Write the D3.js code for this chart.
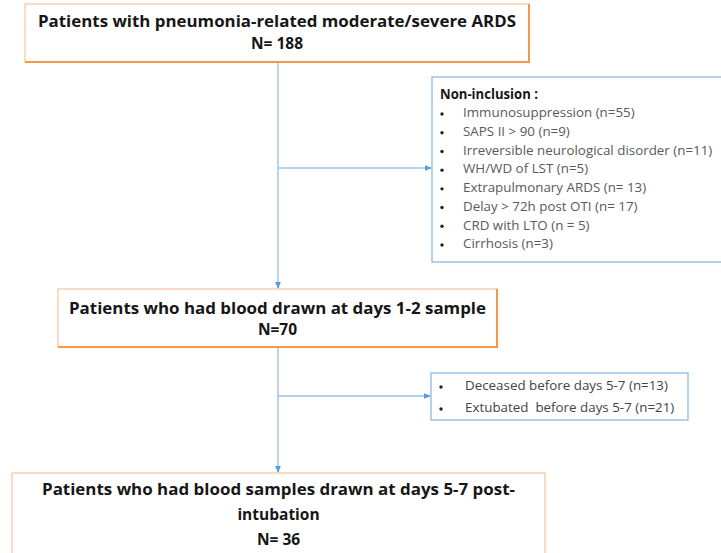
<!DOCTYPE html>
<html>
<head>
<meta charset="utf-8">
<script src="https://cdn.jsdelivr.net/npm/d3@7"></script>
<style>
  body { margin: 0; background: #fff; }
  text { font-family: "Open Sans", Lato, sans-serif; }
</style>
</head>
<body>
<svg id="chart" width="721" height="553"></svg>
<script>
// main flow steps
const stepLabels = [
    ['Patients with pneumonia-related moderate/severe ARDS'],
    ['Patients who had blood drawn at days 1-2 sample'],
    ['Patients who had blood samples drawn at days 5-7 post-', 'intubation']
];
const stepCounts = ['N= 188', 'N=70', 'N= 36'];

// side boxes
const exclusionTitle = 'Non-inclusion :';
const nonInclusion = [
    'Immunosuppression (n=55)',
    'SAPS II > 90 (n=9)',
    'Irreversible neurological disorder (n=11)',
    'WH/WD of LST (n=5)',
    'Extrapulmonary ARDS (n= 13)',
    'Delay > 72h post OTI (n= 17)',
    'CRD with LTO (n = 5)',
    'Cirrhosis (n=3)'
];
const dropOuts = [
    'Deceased before days 5-7 (n=13)',
    'Extubated  before days 5-7 (n=21)'
];

const ORANGE = '#f79646';
const ORANGE_LIGHT = '#f9c9a4';
const BLUE = '#9dc3e6';
const svg = d3.select('#chart');

// layout of the boxes (fit = width of the long first line)
const mainBoxes = [
    {x0: 25, x1: 529, y0: 4, y1: 62, lineY: 23, lineH: 22, fit: 478, shadow: true},
    {x0: 58, x1: 497, y0: 289, y1: 347, lineY: 310, lineH: 21, fit: 417, shadow: true},
    {x0: 12, x1: 545, y0: 473, y1: 600, lineY: 491, lineH: 25, fit: 473, shadow: false}
];
const sideBoxes = [
    {x0: 432, x1: 730, y0: 77, y1: 262, branchY: 168},
    {x0: 431, x1: 688, y0: 373, y1: 420, branchY: 396}
];
const trunkX = 278;
const ITEM_STRETCH = 1.07;

svg.append('defs').append('marker')
    .attr('id', 'arr')
    .attr('viewBox', '0 0 10 10')
    .attr('refX', 10).attr('refY', 5)
    .attr('markerWidth', 5).attr('markerHeight', 5)
    .attr('orient', 'auto')
    .append('path').attr('d', 'M0,1 L10,5 L0,9 Z').attr('fill', '#5b9bd5');

// connectors
const links = svg.append('g').attr('stroke', BLUE).attr('stroke-width', 1.4).attr('fill', 'none');
[[0, 1], [1, 2]].forEach(([a, b]) => {
    links.append('line')
        .attr('x1', trunkX).attr('x2', trunkX)
        .attr('y1', mainBoxes[a].y1 + 1).attr('y2', mainBoxes[b].y0)
        .attr('marker-end', 'url(#arr)');
});
sideBoxes.forEach(s => {
    links.append('line')
        .attr('x1', trunkX).attr('x2', s.x0)
        .attr('y1', s.branchY).attr('y2', s.branchY)
        .attr('marker-end', 'url(#arr)');
});

// main boxes
const main = svg.selectAll('g.step')
    .data(stepLabels.map((lines, i) => ({lines: lines.concat(stepCounts[i]), box: mainBoxes[i]})))
    .join('g').attr('class', 'step');

main.append('rect')
    .attr('x', d => d.box.x0).attr('y', d => d.box.y0)
    .attr('width', d => d.box.x1 - d.box.x0).attr('height', d => d.box.y1 - d.box.y0)
    .attr('fill', '#fff').attr('stroke', ORANGE_LIGHT).attr('stroke-width', 1.3);

// darker bottom / right edge
main.filter(d => d.box.shadow).append('path')
    .attr('d', d => `M${d.box.x0},${d.box.y1} L${d.box.x1},${d.box.y1} L${d.box.x1},${d.box.y0}`)
    .attr('fill', 'none').attr('stroke', ORANGE).attr('stroke-width', 2);

main.selectAll('text')
    .data(d => d.lines.map((t, j) => ({t, j, box: d.box})))
    .join('text')
    .attr('x', d => (d.box.x0 + d.box.x1) / 2)
    .attr('y', d => d.box.lineY + d.j * d.box.lineH)
    .attr('text-anchor', 'middle')
    .attr('dominant-baseline', 'middle')
    .attr('font-size', 15.5)
    .attr('font-weight', 'bold')
    .attr('fill', '#161616')
    .each(function(d) {
        if (d.j === 0) d3.select(this).attr('textLength', d.box.fit).attr('lengthAdjust', 'spacingAndGlyphs');
    })
    .text(d => d.t);

// side boxes
const sb0 = sideBoxes[0], sb1 = sideBoxes[1];
svg.append('rect')
    .attr('x', sb0.x0).attr('y', sb0.y0)
    .attr('width', sb0.x1 - sb0.x0).attr('height', sb0.y1 - sb0.y0)
    .attr('fill', '#fff').attr('stroke', BLUE).attr('stroke-width', 1.5);
svg.append('text')
    .attr('x', 440).attr('y', 95)
    .attr('dominant-baseline', 'middle')
    .attr('font-size', 14.5).attr('font-weight', 'bold').attr('fill', '#161616')
    .attr('textLength', 98).attr('lengthAdjust', 'spacingAndGlyphs')
    .text(exclusionTitle);

const yItem = d3.scalePoint().domain(d3.range(nonInclusion.length)).range([114, 245]);
const items = svg.append('g').selectAll('g').data(nonInclusion).join('g')
    .attr('transform', (d, i) => `translate(0,${yItem(i)})`);
items.append('circle').attr('cx', 442).attr('cy', 0).attr('r', 1.7).attr('fill', '#222');
items.append('text')
    .attr('transform', `translate(463,0) scale(${ITEM_STRETCH},1)`)
    .attr('dominant-baseline', 'middle')
    .attr('font-size', 12.5).attr('fill', '#5a5a5a')
    .text(d => d);

svg.append('rect')
    .attr('x', sb1.x0).attr('y', sb1.y0)
    .attr('width', sb1.x1 - sb1.x0).attr('height', sb1.y1 - sb1.y0)
    .attr('fill', '#fff').attr('stroke', BLUE).attr('stroke-width', 1.5);
const yDrop = d3.scalePoint().domain(d3.range(dropOuts.length)).range([387, 409]);
const drops = svg.append('g').selectAll('g').data(dropOuts).join('g')
    .attr('transform', (d, i) => `translate(0,${yDrop(i)})`);
drops.append('circle').attr('cx', 441).attr('cy', 0).attr('r', 1.7).attr('fill', '#222');
drops.append('text')
    .attr('transform', `translate(465,0) scale(${ITEM_STRETCH},1)`)
    .attr('dominant-baseline', 'middle')
    .attr('font-size', 12.5).attr('fill', '#444')
    .style('white-space', 'pre')
    .text(d => d);
</script>
</body>
</html>
